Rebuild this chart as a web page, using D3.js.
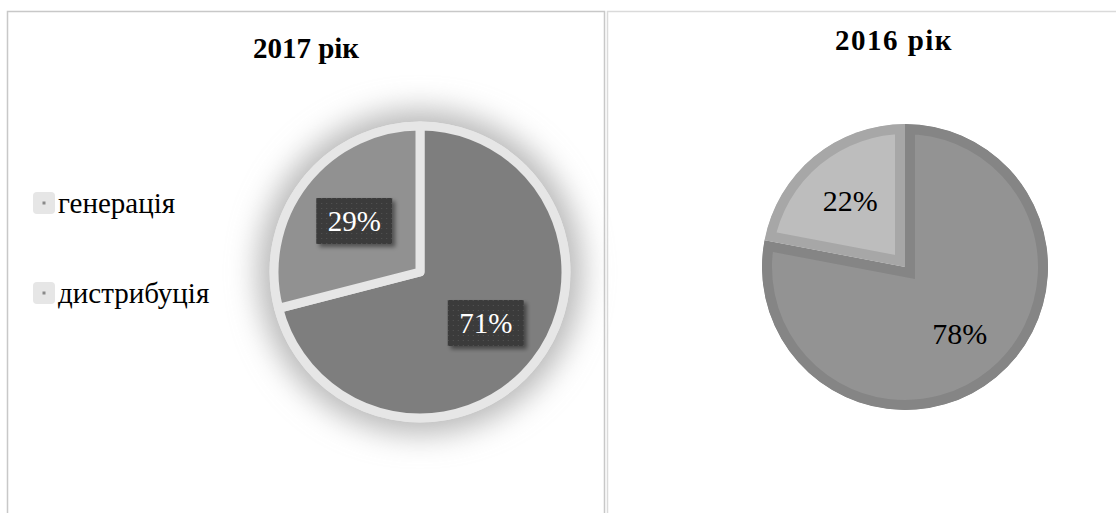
<!DOCTYPE html>
<html>
<head>
<meta charset="utf-8">
<script src="https://cdn.jsdelivr.net/npm/d3@7"></script>
<style>
  body { margin: 0; background: #fff; }
</style>
</head>
<body>
<div id="chart"></div>
<script>
// data
const categories = ['генерація', 'дистрибуція'];
const values2017 = [71, 29];
const values2016 = [78, 22];
const titles = ['2017 рік', '2016 рік'];

const W = 1116, H = 513;
const serif = 'Liberation Serif';

const svg = d3.select('#chart').append('svg')
  .attr('width', W)
  .attr('height', H)
  .attr('font-family', serif);

const defs = svg.append('defs');

// soft halo behind the 2017 pie
defs.append('filter').attr('id', 'halo')
  .attr('x', '-40%').attr('y', '-40%').attr('width', '180%').attr('height', '180%')
  .append('feGaussianBlur').attr('stdDeviation', 15);

// dotted dark texture for the 2017 labels
const pat = defs.append('pattern').attr('id', 'dots')
  .attr('width', 5).attr('height', 5).attr('patternUnits', 'userSpaceOnUse');
pat.append('rect').attr('width', 5).attr('height', 5).attr('fill', '#3b3b3b');
pat.append('rect').attr('x', 2).attr('y', 2).attr('width', 1).attr('height', 1).attr('fill', '#555');

const boxShadow = defs.append('filter').attr('id', 'boxShadow')
  .attr('x', '-20%').attr('y', '-20%').attr('width', '150%').attr('height', '160%');
boxShadow.append('feDropShadow')
  .attr('dx', 3).attr('dy', 3).attr('stdDeviation', 2)
  .attr('flood-color', '#000').attr('flood-opacity', 0.45);

// panel borders
svg.append('path')
  .attr('d', 'M7.5,513 V11.5 H604.5 V513')
  .attr('fill', 'none').attr('stroke', '#c8c8c8').attr('stroke-width', 1.5);
svg.append('path')
  .attr('d', 'M607.5,513 V11.5 H1116')
  .attr('fill', 'none').attr('stroke', '#dadada').attr('stroke-width', 1.5);

const pie = d3.pie().sort(null).value(d => d);

// ---------- 2017 ----------
const c1 = { x: 420, y: 272, r: 146 };
const g1 = svg.append('g').attr('transform', `translate(${c1.x},${c1.y})`);

g1.append('circle')
  .attr('r', c1.r + 16)
  .attr('fill', '#b8b8b8')
  .attr('filter', 'url(#halo)');

g1.append('circle')
  .attr('r', c1.r + 4.5)
  .attr('fill', '#e6e6e6');

const arc1 = d3.arc().innerRadius(0).outerRadius(c1.r);
const colors2017 = ['#7e7e7e', '#919191'];

g1.selectAll('path.slice')
  .data(pie(values2017))
  .join('path')
  .attr('class', 'slice')
  .attr('d', arc1)
  .attr('fill', (d, i) => colors2017[i])
  .attr('stroke', '#e6e6e6')
  .attr('stroke-width', 9)
  .attr('stroke-linejoin', 'round');

const labelArc1 = d3.arc().innerRadius(c1.r * 0.57).outerRadius(c1.r * 0.57);
const lab1 = g1.selectAll('g.lab')
  .data(pie(values2017))
  .join('g')
  .attr('class', 'lab')
  .attr('transform', d => `translate(${labelArc1.centroid(d)})`);

lab1.append('rect')
  .attr('x', -38).attr('y', -23)
  .attr('width', 76).attr('height', 46)
  .attr('fill', 'url(#dots)')
  .attr('filter', 'url(#boxShadow)');

lab1.append('text')
  .attr('text-anchor', 'middle')
  .attr('dy', '0.35em')
  .attr('fill', '#fff')
  .attr('font-size', 29)
  .text(d => d.data + '%');

// title 2017
svg.append('text')
  .attr('x', 306).attr('y', 58)
  .attr('text-anchor', 'middle')
  .attr('font-size', 29)
  .attr('font-weight', 'bold')
  .text(titles[0]);

// legend
const legend = svg.append('g').attr('transform', 'translate(33,203)');
const item = legend.selectAll('g')
  .data(categories)
  .join('g')
  .attr('transform', (d, i) => `translate(0,${i * 90})`);

item.append('rect')
  .attr('x', 0).attr('y', -11)
  .attr('width', 22).attr('height', 22)
  .attr('rx', 4)
  .attr('fill', '#e6e6e6');
item.append('rect')
  .attr('x', 9.5).attr('y', -1.5)
  .attr('width', 3).attr('height', 3)
  .attr('fill', '#8a8a8a');
item.append('text')
  .attr('x', 25).attr('y', 10)
  .attr('font-size', 29)
  .attr('fill', '#000')
  .text(d => d);

// ---------- 2016 ----------
const c2 = { x: 905, y: 267, r: 143 };
const g2 = svg.append('g').attr('transform', `translate(${c2.x},${c2.y})`);

const arc2 = d3.arc().innerRadius(0).outerRadius(c2.r);
const fills2016 = ['#939393', '#bdbdbd'];
const borders2016 = ['#858585', '#a7a7a7'];
const slices2 = pie(values2016);

// clip each slice to itself so its border sits on the inside
slices2.forEach((d, i) => {
  defs.append('clipPath').attr('id', 'clip2016-' + i)
    .append('path').attr('d', arc2(d));
});

g2.selectAll('path.slice')
  .data(slices2)
  .join('path')
  .attr('class', 'slice')
  .attr('d', arc2)
  .attr('fill', (d, i) => fills2016[i])
  .attr('stroke', (d, i) => borders2016[i])
  .attr('stroke-width', 20)
  .attr('clip-path', (d, i) => `url(#clip2016-${i})`);

const labelArc2 = d3.arc().innerRadius(c2.r * 0.6).outerRadius(c2.r * 0.6);
g2.selectAll('text.lab')
  .data(slices2)
  .join('text')
  .attr('class', 'lab')
  .attr('transform', d => `translate(${labelArc2.centroid(d)})`)
  .attr('text-anchor', 'middle')
  .attr('dy', '0.35em')
  .attr('fill', '#000')
  .attr('font-size', 30)
  .text(d => d.data + '%');

// title 2016
svg.append('text')
  .attr('x', 894).attr('y', 50)
  .attr('text-anchor', 'middle')
  .attr('font-size', 29)
  .attr('font-weight', 'bold')
  .attr('letter-spacing', 1.5)
  .text(titles[1]);
</script>
</body>
</html>
